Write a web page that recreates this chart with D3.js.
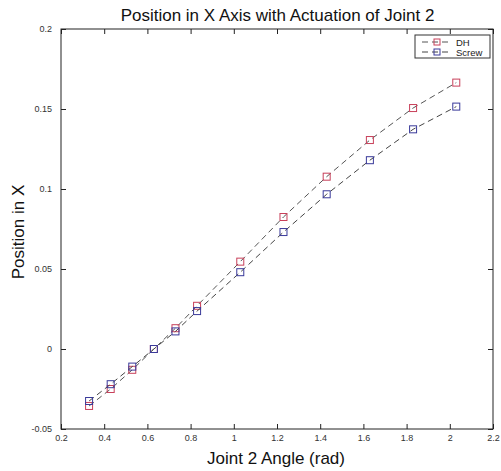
<!DOCTYPE html>
<html><head><meta charset="utf-8">
<script src="https://cdn.jsdelivr.net/npm/d3@7/dist/d3.min.js"></script>
<style>body{margin:0;background:#fff}svg{display:block}</style>
</head><body>
<svg id="c" width="501" height="471"></svg>
<script>
const angles = [0.33, 0.43, 0.53, 0.63, 0.73, 0.83, 1.03, 1.23, 1.43, 1.63, 1.83, 2.03];
const dhValues = [-0.0356, -0.025, -0.013, 0.0, 0.013, 0.027, 0.0546, 0.0825, 0.1077, 0.1306, 0.1506, 0.1665];
const screwValues = [-0.0325, -0.022, -0.011, 0.0, 0.011, 0.0237, 0.048, 0.0731, 0.0967, 0.118, 0.1373, 0.1515];
const xTicks = [0.2, 0.4, 0.6, 0.8, 1, 1.2, 1.4, 1.6, 1.8, 2, 2.2];
const yTicks = [-0.05, 0, 0.05, 0.1, 0.15, 0.2];
const seriesNames = ["DH", "Screw"];

const svg = d3.select("#c");
const L = 61, R = 493, T = 29, B = 429;
const x = d3.scaleLinear().domain([0.2, 2.2]).range([L, R]);
const y = d3.scaleLinear().domain([-0.05, 0.2]).range([B, T]);
const font = "Liberation Sans, Arial, sans-serif";

svg.append("rect").attr("x", L).attr("y", T).attr("width", R - L).attr("height", B - T)
  .attr("fill", "none").attr("stroke", "#222").attr("stroke-width", 1);

const fmt = d => String(d);
const tl = 5;
svg.append("g").attr("transform", `translate(0,${B})`)
  .call(d3.axisBottom(x).tickValues(xTicks).tickFormat(fmt).tickSizeInner(-tl).tickSizeOuter(0).tickPadding(6))
  .call(g => g.select(".domain").remove())
  .call(g => g.selectAll("line").attr("stroke", "#222"))
  .call(g => g.selectAll("text").attr("font-family", font).attr("font-size", 9).attr("fill", "#333"));
svg.append("g").attr("transform", `translate(0,${T})`)
  .call(d3.axisTop(x).tickValues(xTicks).tickFormat("").tickSizeInner(-tl).tickSizeOuter(0))
  .call(g => g.select(".domain").remove())
  .call(g => g.selectAll("line").attr("stroke", "#222"));
svg.append("g").attr("transform", `translate(${L},0)`)
  .call(d3.axisLeft(y).tickValues(yTicks).tickFormat(fmt).tickSizeInner(-tl).tickSizeOuter(0).tickPadding(9))
  .call(g => g.select(".domain").remove())
  .call(g => g.selectAll("line").attr("stroke", "#222"))
  .call(g => g.selectAll("text").attr("font-family", font).attr("font-size", 9).attr("fill", "#333"));
svg.append("g").attr("transform", `translate(${R},0)`)
  .call(d3.axisRight(y).tickValues(yTicks).tickFormat("").tickSizeInner(-tl).tickSizeOuter(0))
  .call(g => g.select(".domain").remove())
  .call(g => g.selectAll("line").attr("stroke", "#222"));

svg.append("text").attr("x", 277.5).attr("y", 21).attr("text-anchor", "middle")
  .attr("font-family", font).attr("font-size", 17).attr("fill", "#111")
  .text("Position in X Axis with Actuation of Joint 2");
svg.append("text").attr("x", 276).attr("y", 464).attr("text-anchor", "middle")
  .attr("font-family", font).attr("font-size", 17).attr("fill", "#111")
  .text("Joint 2 Angle (rad)");
svg.append("text").attr("transform", "translate(24,232) rotate(-90)").attr("text-anchor", "middle")
  .attr("font-family", font).attr("font-size", 17).attr("fill", "#111")
  .text("Position in X");

const series = [
  {name: seriesNames[0], vals: dhValues, line: "#555", mark: "#c8405a"},
  {name: seriesNames[1], vals: screwValues, line: "#444", mark: "#3a3a9a"}
];
const lineGen = d3.line().x((d, i) => x(angles[i])).y(d => y(d));
const ms = 7;
series.forEach(s => {
  svg.append("path").datum(s.vals).attr("d", lineGen).attr("fill", "none")
    .attr("stroke", s.line).attr("stroke-width", 1).attr("stroke-dasharray", "6,4");
  svg.append("g").selectAll("rect").data(s.vals).join("rect")
    .attr("x", (d, i) => x(angles[i]) - ms / 2).attr("y", d => y(d) - ms / 2)
    .attr("width", ms).attr("height", ms).attr("fill", "none")
    .attr("stroke", s.mark).attr("stroke-width", 1);
});

const lg = svg.append("g");
lg.append("rect").attr("x", 415).attr("y", 35).attr("width", 75).attr("height", 23)
  .attr("fill", "#fff").attr("stroke", "#333").attr("stroke-width", 1);
series.forEach((s, i) => {
  const yy = 42 + i * 10;
  lg.append("line").attr("x1", 422).attr("x2", 452).attr("y1", yy).attr("y2", yy)
    .attr("stroke", s.line).attr("stroke-width", 1).attr("stroke-dasharray", "6,4");
  lg.append("rect").attr("x", 437 - 3).attr("y", yy - 3).attr("width", 6).attr("height", 6)
    .attr("fill", "none").attr("stroke", s.mark);
  lg.append("text").attr("x", 456).attr("y", yy + 3.5).attr("font-family", font)
    .attr("font-size", 9.5).attr("fill", "#222").text(s.name);
});
</script>
</body></html>
